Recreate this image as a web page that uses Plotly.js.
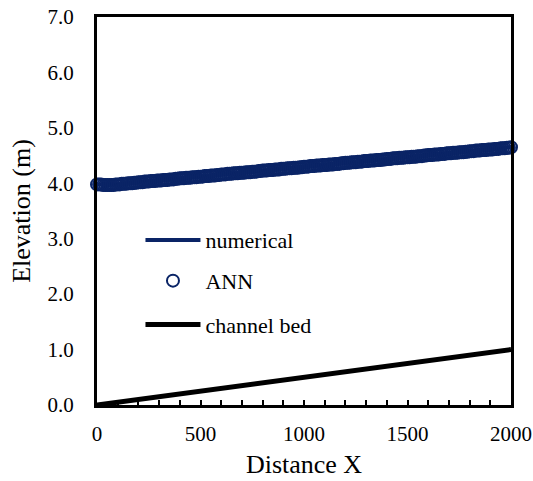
<!DOCTYPE html>
<html>
<head>
<meta charset="utf-8">
<script src="https://cdn.plot.ly/plotly-3.0.1.min.js"></script>
<style>
  html, body { margin: 0; padding: 0; background: #fff; }
  #chart { width: 533px; height: 481px; }
</style>
</head>
<body>
<div id="chart"></div>
<script>
// Water surface elevation along the channel: numerical model vs ANN prediction
const distance = [0,10,20,30,40,50,60,70,80,90,100,110,120,130,140,150,160,170,180,190,
  200,210,220,230,240,250,260,270,280,290,300,310,320,330,340,350,360,370,380,390,
  400,410,420,430,440,450,460,470,480,490,500,510,520,530,540,550,560,570,580,590,
  600,610,620,630,640,650,660,670,680,690,700,710,720,730,740,750,760,770,780,790,
  800,810,820,830,840,850,860,870,880,890,900,910,920,930,940,950,960,970,980,990,
  1000,1010,1020,1030,1040,1050,1060,1070,1080,1090,1100,1110,1120,1130,1140,1150,1160,1170,1180,1190,
  1200,1210,1220,1230,1240,1250,1260,1270,1280,1290,1300,1310,1320,1330,1340,1350,1360,1370,1380,1390,
  1400,1410,1420,1430,1440,1450,1460,1470,1480,1490,1500,1510,1520,1530,1540,1550,1560,1570,1580,1590,
  1600,1610,1620,1630,1640,1650,1660,1670,1680,1690,1700,1710,1720,1730,1740,1750,1760,1770,1780,1790,
  1800,1810,1820,1830,1840,1850,1860,1870,1880,1890,1900,1910,1920,1930,1940,1950,1960,1970,1980,1990,2000];

const annElevation = [3.98,3.98,3.98,3.97,3.97,3.97,3.97,3.97,3.97,3.98,3.98,3.98,3.99,3.99,3.99,4.00,4.00,4.00,4.01,4.01,
  4.02,4.02,4.02,4.03,4.03,4.03,4.04,4.04,4.04,4.05,4.05,4.05,4.06,4.06,4.06,4.07,4.07,4.07,4.08,4.08,
  4.09,4.09,4.09,4.10,4.10,4.10,4.11,4.11,4.11,4.12,4.12,4.12,4.13,4.13,4.13,4.14,4.14,4.14,4.15,4.15,
  4.16,4.16,4.16,4.17,4.17,4.17,4.18,4.18,4.18,4.19,4.19,4.19,4.20,4.20,4.20,4.21,4.21,4.21,4.22,4.22,
  4.23,4.23,4.23,4.24,4.24,4.24,4.25,4.25,4.25,4.26,4.26,4.26,4.27,4.27,4.27,4.28,4.28,4.28,4.29,4.29,
  4.30,4.30,4.30,4.31,4.31,4.31,4.32,4.32,4.32,4.33,4.33,4.33,4.34,4.34,4.34,4.35,4.35,4.35,4.36,4.36,
  4.37,4.37,4.37,4.38,4.38,4.38,4.39,4.39,4.39,4.40,4.40,4.40,4.41,4.41,4.41,4.42,4.42,4.42,4.43,4.43,
  4.44,4.44,4.44,4.45,4.45,4.45,4.46,4.46,4.46,4.47,4.47,4.47,4.48,4.48,4.48,4.49,4.49,4.49,4.50,4.50,
  4.51,4.51,4.51,4.52,4.52,4.52,4.53,4.53,4.53,4.54,4.54,4.54,4.55,4.55,4.55,4.56,4.56,4.56,4.57,4.57,
  4.58,4.58,4.58,4.59,4.59,4.59,4.60,4.60,4.60,4.61,4.61,4.61,4.62,4.62,4.62,4.63,4.63,4.63,4.64,4.64,4.65];

const numDistance = [0,100,200,300,400,500,600,700,800,900,1000,1100,1200,1300,1400,1500,1600,1700,1800,1900,2000];
const numElevation = [3.98,3.98,4.02,4.05,4.09,4.12,4.16,4.19,4.23,4.26,4.30,4.33,4.37,4.40,4.44,4.47,4.51,4.54,4.58,4.61,4.65];

const bedDistance = [0, 2000];
const bedElevation = [0.0, 1.0];

const xTicks = [0, 500, 1000, 1500, 2000];
const yTicks = [0, 1, 2, 3, 4, 5, 6, 7];
const yTickText = ['0.0','1.0','2.0','3.0','4.0','5.0','6.0','7.0'];

const navy = '#0a2466';
const serif = 'Times New Roman, Liberation Serif, DejaVu Serif, serif';

const traces = [
  {
    x: numDistance, y: numElevation, name: 'numerical', type: 'scatter', mode: 'lines',
    line: { color: navy, width: 4 }, legend: 'legend', cliponaxis: false
  },
  {
    x: distance, y: annElevation, name: 'ANN', type: 'scatter', mode: 'markers',
    marker: { symbol: 'circle-open', size: 12, color: navy, line: { width: 2, color: navy } },
    legend: 'legend2', cliponaxis: false
  },
  {
    x: bedDistance, y: bedElevation, name: 'channel bed', type: 'scatter', mode: 'lines',
    line: { color: '#000', width: 5 }, legend: 'legend3', cliponaxis: false
  }
];

const legendBase = {
  xanchor: 'left', yanchor: 'middle', bgcolor: 'rgba(0,0,0,0)', borderwidth: 0,
  itemwidth: 55, font: { family: serif, size: 22, color: '#000' }
};

const layout = {
  width: 533, height: 481,
  margin: { l: 97, r: 22, t: 17, b: 76 },
  paper_bgcolor: '#fff', plot_bgcolor: '#fff',
  font: { family: serif, color: '#000' },
  showlegend: true,
  legend: Object.assign({}, legendBase, { x: 0.105, y: 0.425 }),
  legend2: Object.assign({}, legendBase, { x: 0.105, y: 0.32 }),
  legend3: Object.assign({}, legendBase, { x: 0.105, y: 0.207 }),
  xaxis: {
    range: [0, 2000], tickvals: xTicks, ticks: 'inside', ticklen: 5, tickwidth: 2, tickcolor: '#000',
    minor: { dtick: 100, ticks: 'inside', ticklen: 5, tickwidth: 2, tickcolor: '#000' },
    showgrid: false, zeroline: false, showline: true, linecolor: '#000', linewidth: 3, mirror: true,
    tickfont: { family: serif, size: 21, color: '#000' }, ticklabelstandoff: 8,
    title: { text: 'Distance X', font: { family: serif, size: 26, color: '#000' }, standoff: 10 }
  },
  yaxis: {
    range: [0, 7], tickvals: yTicks, ticktext: yTickText, ticks: '',
    showgrid: false, zeroline: false, showline: true, linecolor: '#000', linewidth: 3, mirror: true,
    tickfont: { family: serif, size: 21, color: '#000' }, ticklabelstandoff: 16,
    title: { text: 'Elevation (m)', font: { family: serif, size: 26, color: '#000' }, standoff: 10 }
  }
};

Plotly.newPlot('chart', traces, layout, { displayModeBar: false, staticPlot: true });
</script>
</body>
</html>
